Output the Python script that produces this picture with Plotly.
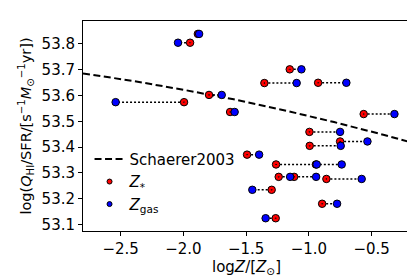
import plotly.graph_objects as go

# Data
y_q = [53.804, 53.838, 53.701, 53.648, 53.649, 53.602, 53.574, 53.536, 53.528, 53.459,
       53.422, 53.405, 53.371, 53.333, 53.333, 53.285, 53.285, 53.277, 53.235, 53.181, 53.125]
z_star = [-1.947, -1.885, -1.153, -1.355, -0.927, -1.796, -1.995, -1.628, -0.564, -0.996,
          -0.752, -0.994, -1.493, -1.262, -0.945, -1.241, -1.118, -0.861, -1.297, -0.895, -1.265]
z_gas = [-2.043, -1.875, -1.060, -1.098, -0.702, -1.695, -2.540, -1.592, -0.319, -0.752,
         -0.534, -0.747, -1.397, -0.938, -0.739, -1.150, -0.943, -0.580, -1.451, -0.776, -1.345]

# Schaerer2003 relation
s03_x = [-2.8, -2.4, -2.0, -1.6, -1.2, -0.8, -0.4, -0.2]
s03_y = [53.685, 53.656, 53.622, 53.585, 53.543, 53.497, 53.447, 53.420]

FONT = "DejaVu Sans"

fig = go.Figure()

# connectors
cx, cy = [], []
for a, b, yv in zip(z_star, z_gas, y_q):
    cx += [a, b, None]
    cy += [yv, yv, None]
fig.add_trace(go.Scatter(x=cx, y=cy, mode="lines", showlegend=False,
                         line=dict(color="black", width=1.5, dash="2px,2px"),
                         hoverinfo="skip"))

fig.add_trace(go.Scatter(x=s03_x, y=s03_y, mode="lines", name="Schaerer2003",
                         line=dict(color="black", width=2, dash="7px,3.5px")))

fig.add_trace(go.Scatter(x=z_star, y=y_q, mode="markers", showlegend=False,
                         marker=dict(symbol="circle-dot", size=7.5, color="#ff0000",
                                     line=dict(color="black", width=1))))
fig.add_trace(go.Scatter(x=z_gas, y=y_q, mode="markers", showlegend=False,
                         marker=dict(symbol="circle", size=7.5, color="#0000ff",
                                     line=dict(color="black", width=1))))

# legend-only entries with small markers
fig.add_trace(go.Scatter(x=[None], y=[None], mode="markers", name="<i>Z</i><sub>*</sub>",
                         marker=dict(symbol="circle", size=5, color="#ff0000",
                                     line=dict(color="black", width=1))))
fig.add_trace(go.Scatter(x=[None], y=[None], mode="markers", name="<i>Z</i><sub>gas</sub>",
                         marker=dict(symbol="circle", size=5, color="#0000ff",
                                     line=dict(color="black", width=1))))

axis_common = dict(showline=True, linecolor="black", linewidth=1, mirror=True,
                   ticks="outside", ticklen=4, tickcolor="black", tickwidth=1,
                   showgrid=False, zeroline=False,
                   tickfont=dict(family=FONT, size=15, color="black"))

fig.update_layout(
    width=415, height=277,
    margin=dict(l=75, r=13, t=13, b=54),
    plot_bgcolor="white", paper_bgcolor="white",
    font=dict(family=FONT, size=15, color="black"),
    xaxis=dict(range=[-2.8, -0.195], tickvals=[-2.5, -2.0, -1.5, -1.0, -0.5],
               ticktext=["\u22122.5", "\u22122.0", "\u22121.5", "\u22121.0", "\u22120.5"],
               title=dict(text="log<i>Z</i>/[<i>Z</i><sub>\u2299</sub>]",
                          font=dict(family=FONT, size=15), standoff=2),
               **axis_common),
    yaxis=dict(range=[53.0756, 53.888], tickvals=[53.1, 53.2, 53.3, 53.4, 53.5, 53.6, 53.7, 53.8],
               ticktext=["53.1", "53.2", "53.3", "53.4", "53.5", "53.6", "53.7", "53.8"],
               title=dict(text="log(<i>Q</i><sub>HI</sub>/SFR/[s<sup>\u22121</sup><i>M</i><sub>\u2299</sub><sup>\u22121</sup>yr])",
                          font=dict(family=FONT, size=14.5), standoff=6),
               **axis_common),
    legend=dict(x=0.02, y=0.42, xanchor="left", yanchor="top",
                bgcolor="rgba(0,0,0,0)", borderwidth=0,
                font=dict(family=FONT, size=15), tracegroupgap=0),
)

fig.write_html("out.html")
